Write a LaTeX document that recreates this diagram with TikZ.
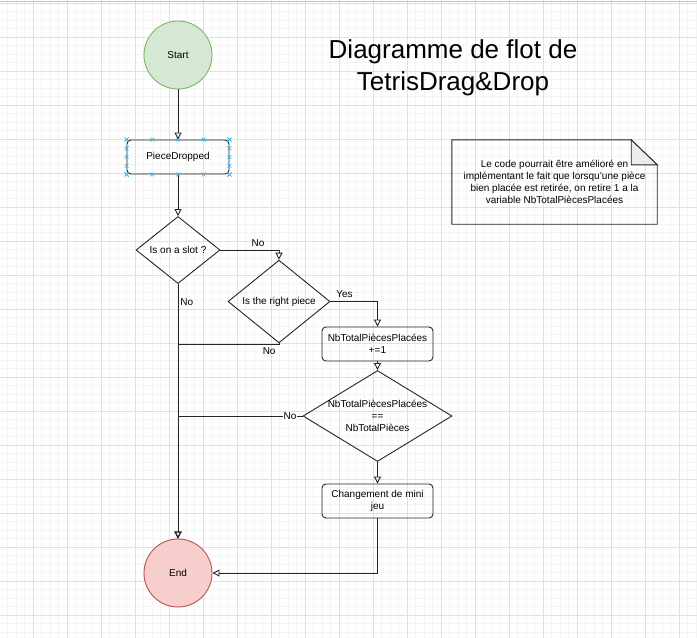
\documentclass[tikz,border=0pt]{standalone}
\usepackage{fontspec}
\setmainfont{Liberation Sans}
\usetikzlibrary{shapes.geometric,arrows.meta,calc}
\definecolor{gridminor}{HTML}{F4F4F4}
\definecolor{gridmajor}{HTML}{E0E0E0}
\definecolor{startfill}{HTML}{D5E8D4}
\definecolor{startline}{HTML}{82B366}
\definecolor{endfill}{HTML}{F8CECC}
\definecolor{endline}{HTML}{B85450}
\definecolor{handleblue}{HTML}{29B6F2}

\begin{document}
\begin{tikzpicture}[x=1pt,y=-1pt,>={Triangle[open,length=7pt,width=7pt]},
 font=\fontsize{10}{12}\selectfont,
 terminal/.style={draw,circle,line width=0.9pt,minimum size=68pt,inner sep=0pt},
 process/.style={draw=black!85,line width=0.9pt,rounded corners=4pt,minimum width=111pt,minimum height=34pt,align=center,inner sep=0pt},
 decision/.style={draw=black!85,line width=0.9pt,diamond,inner sep=0pt,align=center},
 flow/.style={->,line width=0.9pt,draw=black!85},
 handle/.style={handleblue,line width=0.6pt}]
\useasboundingbox (0,0) rectangle (697,638);
\fill[white] (0,0) rectangle (697,638);
% grid
\foreach \k in {0,...,82} \draw[gridminor,line width=0.5pt] ({-1+8.5*\k},0) -- ({-1+8.5*\k},638);
\foreach \k in {0,...,74} \draw[gridminor,line width=0.5pt] (0,{3+8.5*\k}) -- (697,{3+8.5*\k});
\foreach \k in {0,...,20} \draw[gridmajor,line width=0.5pt] ({-1+34*\k},0) -- ({-1+34*\k},638);
\foreach \k in {0,...,18} \draw[gridmajor,line width=0.5pt] (0,{3+34*\k}) -- (697,{3+34*\k});
\draw[gray!45,line width=0.8pt] (0,1) -- (697,1);

\node[terminal,fill=startfill,draw=startline] (start) at (178,55) {Start};
\node[process,minimum width=102pt] (pd) at (178,157) {PieceDropped};
\node[decision,minimum width=84pt,minimum height=67pt] (slot) at (178,250) {Is on a slot ?};
\node[decision,minimum width=102pt,minimum height=67pt] (right) at (279,301.5) {Is the right piece};
\node[process] (inc) at (377.5,344) {NbTotalPiècesPlacées\\+=1};
\node[decision,minimum width=149pt,minimum height=76pt,inner xsep=-12pt,inner ysep=-8pt] (full) at (377.5,416)
 {NbTotalPiècesPlacées\\==\\NbTotalPièces};
\node[process] (game) at (377.5,501) {Changement de mini\\jeu};
\node[terminal,fill=endfill,draw=endline] (end) at (178,573) {End};
\coordinate (m1) at (178,344);
\coordinate (m2) at (178,416);

\draw[flow] (start) -- (pd);
\draw[flow] (pd) -- (slot);
\draw[flow] (slot.east) -| node[pos=0.32,above]{No} (right.north);
\draw[flow] (right.east) -| node[pos=0.15,above]{Yes} (inc.north);
\draw[flow] (slot.south) -- node[pos=0.07,right,inner sep=2pt]{No} (end.north);
\draw[flow] (right.south) |- node[pos=0.5,below left,inner sep=3pt]{No} (m1) -- (end.north);
\draw[flow] (inc) -- (full);
\draw[flow] (full.west) -- node[pos=0.1,fill=white,inner sep=1pt]{No} (m2) -- (end.north);
\draw[flow] (full.south) -- (game.north);
\draw[flow] (game.south) |- (end.east);

% selection handles
\foreach \t in {0,0.25,0.5,0.75,1} {
 \draw[handle] ($(pd.north west)!\t!(pd.north east)$) +(-2,-2) -- +(2,2) +(-2,2) -- +(2,-2);
 \draw[handle] ($(pd.south west)!\t!(pd.south east)$) +(-2,-2) -- +(2,2) +(-2,2) -- +(2,-2);
 \draw[handle] ($(pd.north west)!\t!(pd.south west)$) +(-2,-2) -- +(2,2) +(-2,2) -- +(2,-2);
 \draw[handle] ($(pd.north east)!\t!(pd.south east)$) +(-2,-2) -- +(2,2) +(-2,2) -- +(2,-2);
}

\node[font=\fontsize{26}{32}\selectfont,align=center] (title) at (453,68) {Diagramme de flot de\\TetrisDrag\&Drop};

\node[minimum width=205pt,minimum height=84pt,align=center,inner sep=0pt] (note) at (554.5,182)
 {Le code pourrait être amélioré en\\implémentant le fait que lorsqu'une pièce\\bien placée est retirée, on retire 1 a la\\variable NbTotalPiècesPlacées};
\draw[line width=0.9pt,draw=black!85] (note.south west) -- (note.north west) -- ([xshift=-26pt]note.north east)
 -- ([yshift=-25pt]note.north east) -- (note.south east) -- cycle;
\filldraw[fill=gray!15,draw=black!85,line width=0.9pt] ([xshift=-26pt]note.north east)
 -- ([xshift=-26pt,yshift=-25pt]note.north east) -- ([yshift=-25pt]note.north east) -- cycle;
\end{tikzpicture}
\end{document}
